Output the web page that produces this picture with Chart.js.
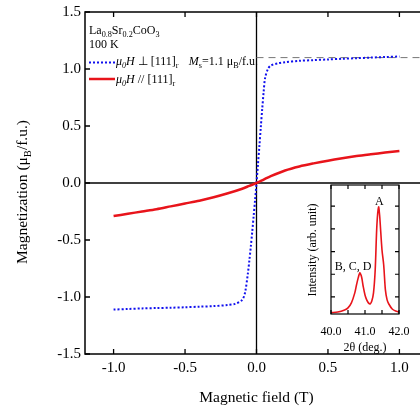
<!DOCTYPE html>
<html><head><meta charset="utf-8">
<script src="https://cdn.jsdelivr.net/npm/chart.js@4.4.1/dist/chart.umd.min.js"></script>
<style>
html,body{margin:0;padding:0;background:#fff;overflow:hidden;width:420px;height:409px}
#wrap{position:relative;width:420px;height:409px;overflow:hidden;background:#fff}
#main{position:absolute;left:0;top:0}
#inset{position:absolute;left:290px;top:170px}
</style></head><body>
<div id="wrap">
<canvas id="main" width="430" height="409" style="width:430px;height:409px"></canvas>
<canvas id="inset" width="125" height="190" style="width:125px;height:190px"></canvas>
</div>
<script>
// ---- data ----
const xTicks = [-1.0, -0.5, 0.0, 0.5, 1.0];
const yTicks = [-1.5, -1.0, -0.5, 0.0, 0.5, 1.0, 1.5];

const perpH = [-1.0,-0.9,-0.8,-0.7,-0.6,-0.5,-0.4,-0.3,-0.2,-0.15,-0.1,-0.08,-0.06,-0.05,-0.04,-0.03,-0.02,-0.01,0,
               0.01,0.02,0.03,0.04,0.05,0.06,0.08,0.1,0.15,0.2,0.3,0.4,0.5,0.6,0.7,0.8,0.9,1.0];
const perpM = [-1.11,-1.105,-1.10,-1.097,-1.094,-1.09,-1.085,-1.08,-1.07,-1.06,-1.025,-0.96,-0.79,-0.68,-0.56,-0.43,-0.29,-0.15,0,
               0.16,0.32,0.49,0.65,0.8,0.92,1.0,1.03,1.05,1.06,1.072,1.078,1.084,1.09,1.095,1.10,1.105,1.11];

const parH = [-1.0,-0.9,-0.8,-0.7,-0.6,-0.5,-0.4,-0.3,-0.2,-0.1,-0.05,0,0.05,0.1,0.2,0.3,0.4,0.5,0.6,0.7,0.8,0.9,1.0];
const parM = [-0.29,-0.27,-0.25,-0.23,-0.205,-0.18,-0.155,-0.125,-0.09,-0.05,-0.025,0,0.03,0.06,0.11,0.145,0.172,0.196,0.217,0.236,0.252,0.267,0.28];

const msH = [0.0, 1.2];
const msM = [1.1, 1.1];

const insetXTicks = [40.0, 41.0, 42.0];
const insetX = [40.0,40.2,40.4,40.5,40.6,40.7,40.75,40.8,40.85,40.9,40.95,41.0,41.05,41.1,41.15,41.2,41.25,41.3,41.35,41.4,41.43,41.45,41.5,41.55,41.6,41.65,41.7,41.8,41.9,42.0];
const insetI = [-0.69,-0.66,-0.57,-0.48,-0.26,0.18,0.53,0.84,1.06,0.88,0.44,0.09,-0.13,-0.26,-0.31,-0.18,0.18,1.19,3.17,3.96,3.6,3.17,2.07,1.41,0.31,-0.13,-0.31,-0.53,-0.62,-0.66];

// ---- helpers ----
const SERIF = "'Liberation Serif','Times New Roman',serif";
function pts(xs, ys){ return xs.map((x,i)=>({x:x,y:ys[i]})); }

function richWidth(ctx, parts, size){
  let w=0;
  for(const [t,st] of parts){
    const sub = st && st.includes('s'); const it = st && st.includes('i');
    ctx.font = (it?'italic ':'') + (sub? size*0.68 : size) + 'px ' + SERIF;
    w += ctx.measureText(t).width;
  }
  return w;
}
function drawRich(ctx, parts, x, y, size, align){
  ctx.save();
  ctx.textBaseline='alphabetic'; ctx.textAlign='left'; ctx.fillStyle='#000';
  let w = richWidth(ctx, parts, size);
  let cx = align==='right' ? x - w : align==='center' ? x - w/2 : x;
  for(const [t,st] of parts){
    const sub = st && st.includes('s'); const it = st && st.includes('i');
    ctx.font = (it?'italic ':'') + (sub? size*0.68 : size) + 'px ' + SERIF;
    ctx.fillText(t, cx, sub ? y + size*0.28 : y);
    cx += ctx.measureText(t).width;
  }
  ctx.restore();
}
function noPad(s){ s.paddingLeft=0; s.paddingRight=0; s.paddingTop=0; s.paddingBottom=0; }

// ---- main chart ----
const mainDeco = {
  id:'mainDeco',
  beforeDatasetsDraw(chart){
    const {ctx, chartArea:a, scales:{x,y}} = chart;
    ctx.save();
    ctx.strokeStyle='#000';
    ctx.lineWidth=1.3;
    const x0 = x.getPixelForValue(0), y0 = y.getPixelForValue(0);
    ctx.beginPath(); ctx.moveTo(x0,a.top); ctx.lineTo(x0,a.bottom); ctx.stroke();
    ctx.beginPath(); ctx.moveTo(a.left,y0); ctx.lineTo(a.right,y0); ctx.stroke();
    ctx.restore();
  },
  afterDraw(chart){
    const {ctx, chartArea:a, scales:{x,y}} = chart;
    ctx.save();
    ctx.strokeStyle='#000'; ctx.lineWidth=1.5;
    ctx.strokeRect(a.left, a.top, a.right-a.left, a.bottom-a.top);
    ctx.lineWidth=1.3;
    const tl=5;
    for(const v of xTicks){
      const px = x.getPixelForValue(v);
      ctx.beginPath(); ctx.moveTo(px,a.bottom); ctx.lineTo(px,a.bottom-tl);
      ctx.moveTo(px,a.top); ctx.lineTo(px,a.top+tl); ctx.stroke();
    }
    for(const v of yTicks){
      const py = y.getPixelForValue(v);
      ctx.beginPath(); ctx.moveTo(a.left,py); ctx.lineTo(a.left+tl,py);
      ctx.moveTo(a.right,py); ctx.lineTo(a.right-tl,py); ctx.stroke();
    }
    // legend
    drawRich(ctx, [['La',''],['0.8','s'],['Sr',''],['0.2','s'],['CoO',''],['3','s']], 89, 34, 12, 'left');
    drawRich(ctx, [['100 K','']], 89, 48, 12, 'left');
    ctx.lineWidth=2;
    ctx.strokeStyle='#1010ee'; ctx.setLineDash([2,2]);
    ctx.beginPath(); ctx.moveTo(89,62.5); ctx.lineTo(115,62.5); ctx.stroke();
    ctx.setLineDash([]); ctx.strokeStyle='#e8141b'; ctx.lineWidth=2.5;
    ctx.beginPath(); ctx.moveTo(89,79); ctx.lineTo(115,79); ctx.stroke();
    drawRich(ctx, [['\u03bc','i'],['0','is'],['H','i'],[' \u22a5 [111]',''],['r','s']], 116, 65, 12, 'left');
    drawRich(ctx, [['\u03bc','i'],['0','is'],['H','i'],[' // [111]',''],['r','s']], 116, 83, 12, 'left');
    // Ms label
    drawRich(ctx, [['M','i'],['s','s'],['=1.1 \u03bc',''],['B','s'],['/f.u.','']], 258, 65, 12, 'right');
    // axis titles
    drawRich(ctx, [['Magnetic field (T)','']], x.getPixelForValue(0), 402, 15.5, 'center');
    ctx.save();
    ctx.translate(27, 192);
    ctx.rotate(-Math.PI/2);
    drawRich(ctx, [['Magnetization (\u03bc',''],['B','s'],['/f.u.)','']], 0, 0, 15.5, 'center');
    ctx.restore();
    ctx.restore();
  }
};

new Chart(document.getElementById('main'), {
  type:'line',
  data:{datasets:[
    {data:pts(parH,parM), borderColor:'#e8141b', borderWidth:2.5, pointRadius:0, tension:0.3, fill:false},
    {data:pts(perpH,perpM), borderColor:'#1010ee', borderWidth:2, borderDash:[2,2], pointRadius:0, tension:0.3, fill:false},
    {data:pts(msH,msM), borderColor:'#777', borderWidth:1, borderDash:[7,5], pointRadius:0, fill:false}
  ]},
  options:{
    responsive:false, animation:false,
    layout:{padding:{left:0,right:2,top:12,bottom:0}},
    plugins:{legend:{display:false}, tooltip:{enabled:false}},
    scales:{
      x:{type:'linear', min:-1.2, max:1.2,
         afterBuildTicks:s=>{s.ticks = xTicks.map(v=>({value:v}));},
         afterFit:s=>{s.height=55; noPad(s);},
         grid:{display:false, drawTicks:false}, border:{display:false},
         ticks:{font:{family:SERIF,size:15}, color:'#000', padding:5, maxRotation:0, autoSkip:false,
                callback:v=>Number(v).toFixed(1)}},
      y:{type:'linear', min:-1.5, max:1.5,
         afterBuildTicks:s=>{s.ticks = yTicks.map(v=>({value:v}));},
         afterFit:s=>{s.width=85; noPad(s);},
         grid:{display:false, drawTicks:false}, border:{display:false},
         ticks:{font:{family:SERIF,size:15}, color:'#000', padding:4, autoSkip:false,
                callback:v=>Number(v).toFixed(1)}}
    }
  },
  plugins:[mainDeco]
});

// ---- inset ----
const insetDeco = {
  id:'insetDeco',
  afterDraw(chart){
    const {ctx, chartArea:a, scales:{x,y}} = chart;
    ctx.save();
    ctx.strokeStyle='#000'; ctx.lineWidth=1.2;
    ctx.strokeRect(a.left, a.top, a.right-a.left, a.bottom-a.top);
    const tl=4;
    for(let v=40.0; v<=42.0001; v+=0.5){
      const px = x.getPixelForValue(v);
      ctx.beginPath(); ctx.moveTo(px,a.bottom); ctx.lineTo(px,a.bottom-tl);
      ctx.moveTo(px,a.top); ctx.lineTo(px,a.top+tl); ctx.stroke();
    }
    for(let v=0; v<=4; v++){
      const py = y.getPixelForValue(v);
      ctx.beginPath(); ctx.moveTo(a.left,py); ctx.lineTo(a.left+tl,py);
      ctx.moveTo(a.right,py); ctx.lineTo(a.right-tl,py); ctx.stroke();
    }
    drawRich(ctx, [['A','']], x.getPixelForValue(41.42), 35, 12, 'center');
    drawRich(ctx, [['B, C, D','']], 63, 100, 12, 'center');
    drawRich(ctx, [['2\u03b8 (deg.)','']], (a.left+a.right)/2, 181, 12, 'center');
    ctx.save();
    ctx.translate(26, 80); ctx.rotate(-Math.PI/2);
    drawRich(ctx, [['Intensity (arb. unit)','']], 0, 0, 12, 'center');
    ctx.restore();
    ctx.restore();
  }
};

new Chart(document.getElementById('inset'), {
  type:'line',
  data:{datasets:[
    {data:pts(insetX,insetI), borderColor:'#e8141b', borderWidth:1.6, pointRadius:0, tension:0.3, fill:false}
  ]},
  options:{
    responsive:false, animation:false,
    layout:{padding:{left:0,right:16,top:15,bottom:0}},
    plugins:{legend:{display:false}, tooltip:{enabled:false}},
    scales:{
      x:{type:'linear', min:40, max:42,
         afterBuildTicks:s=>{s.ticks = insetXTicks.map(v=>({value:v}));},
         afterFit:s=>{s.height=46; noPad(s);},
         grid:{display:false, drawTicks:false}, border:{display:false},
         ticks:{font:{family:SERIF,size:12}, color:'#000', padding:11, maxRotation:0, autoSkip:false,
                callback:v=>Number(v).toFixed(1)}},
      y:{type:'linear', min:-0.75, max:4.93, display:true,
         afterFit:s=>{s.width=41; noPad(s);},
         grid:{display:false, drawTicks:false}, border:{display:false},
         ticks:{display:false}}
    }
  },
  plugins:[insetDeco]
});
</script>
</body></html>
